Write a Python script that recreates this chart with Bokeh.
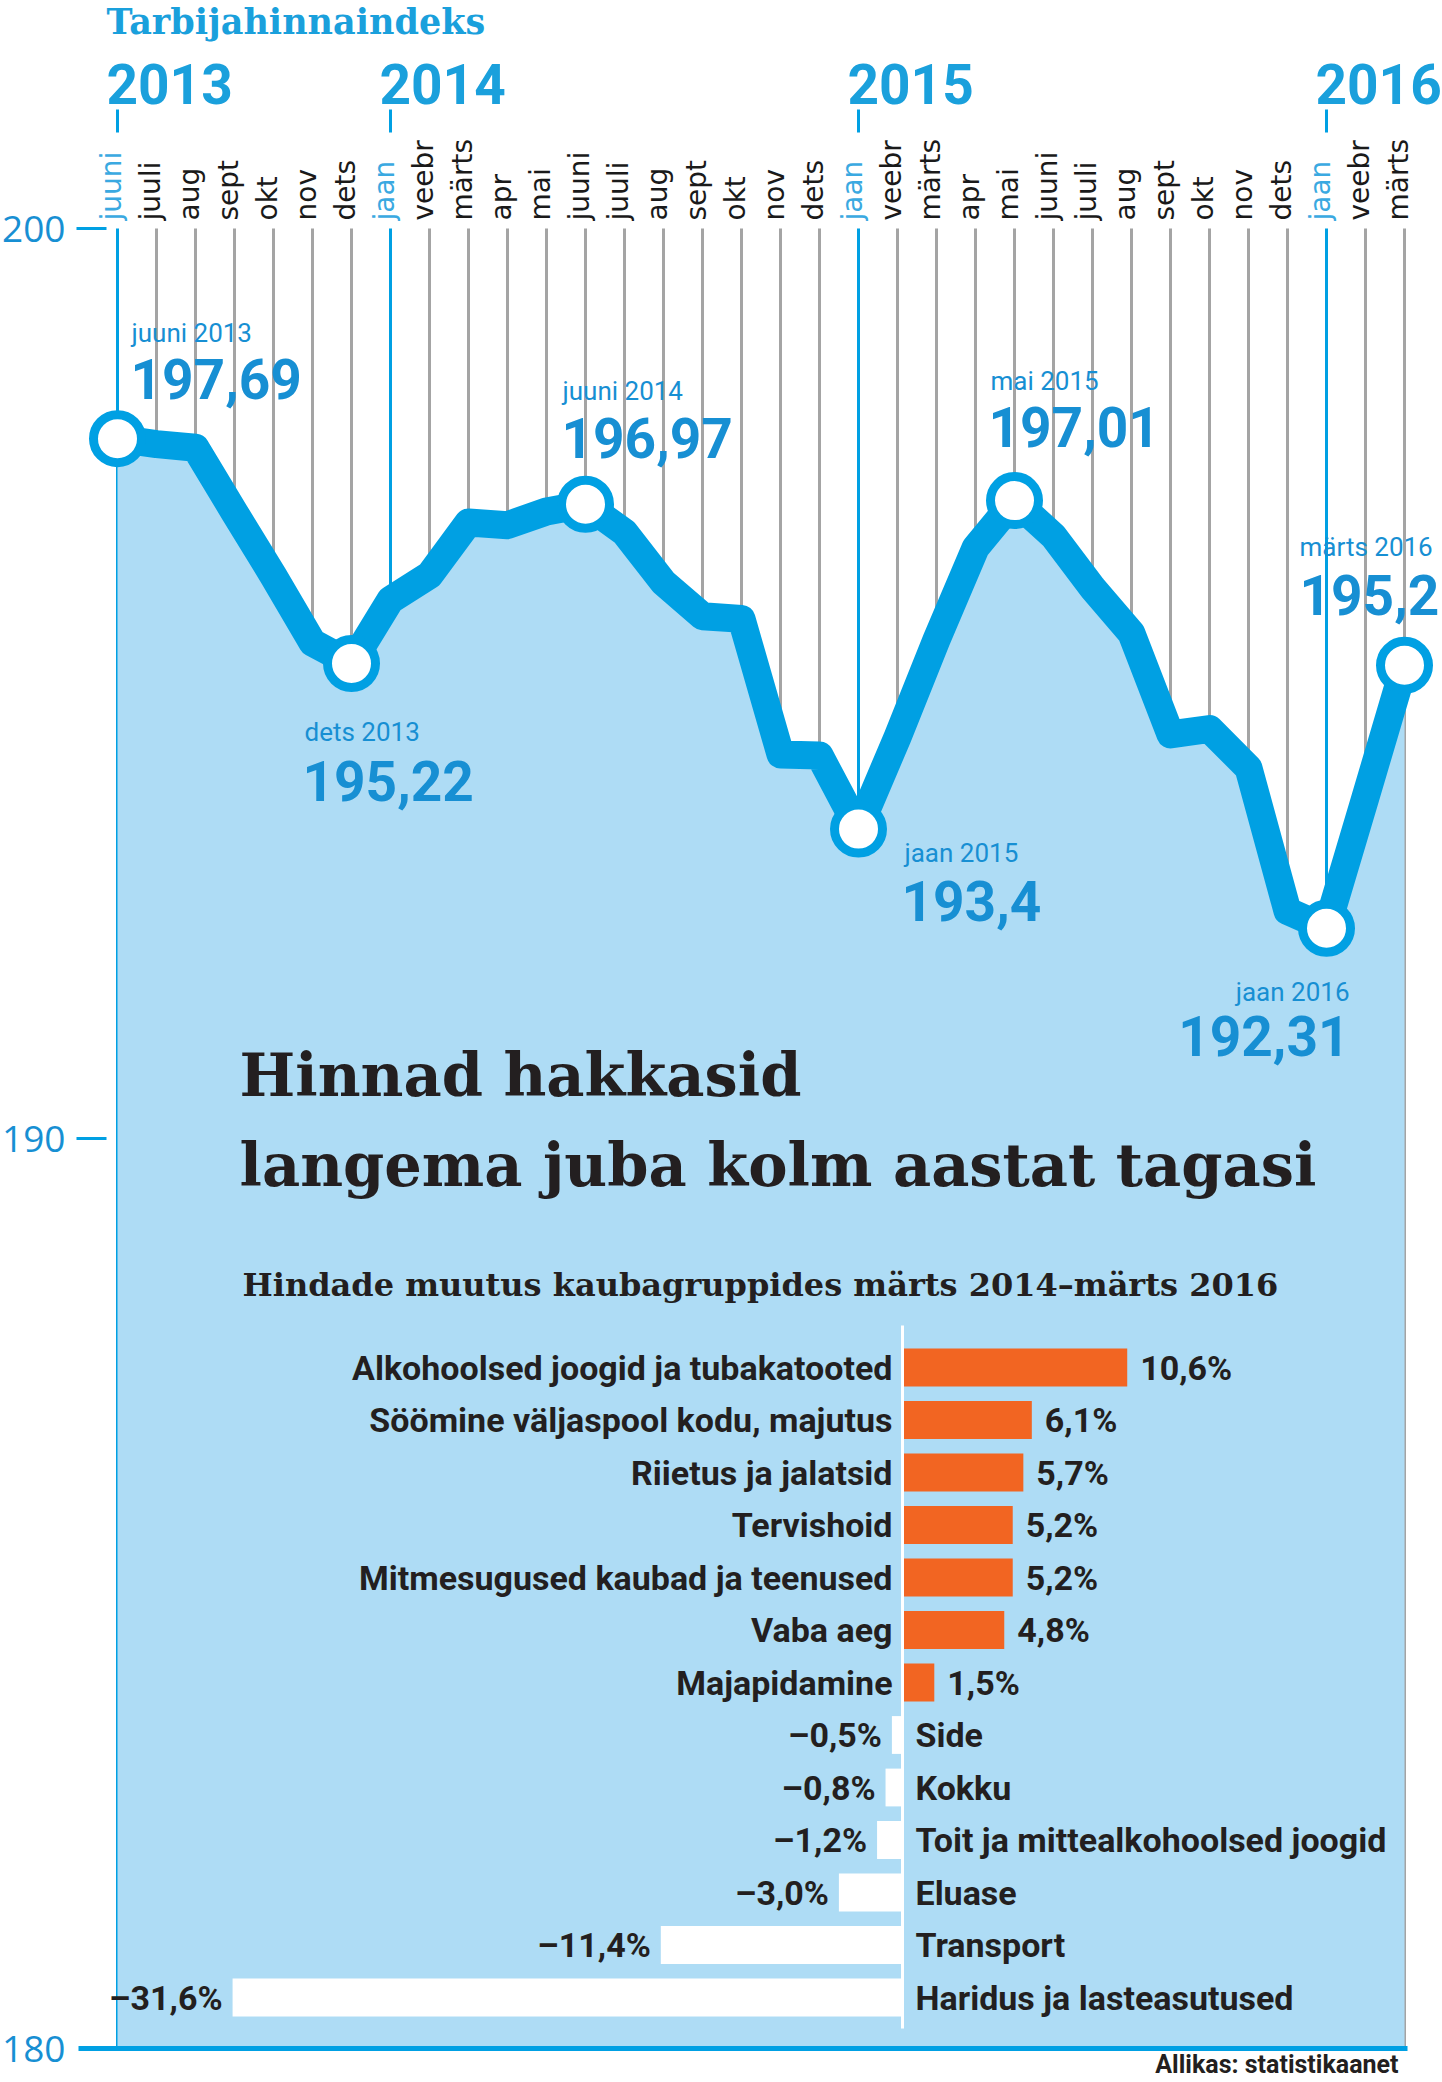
import math
from bokeh.plotting import figure
from bokeh.models import Range1d, ColumnDataSource
from bokeh.core.properties import value
from bokeh.embed import file_html
from bokeh.resources import INLINE

# ---------------- data ----------------
months = ["juuni", "juuli", "aug", "sept", "okt", "nov", "dets",
          "jaan", "veebr", "märts", "apr", "mai", "juuni", "juuli", "aug", "sept", "okt", "nov", "dets",
          "jaan", "veebr", "märts", "apr", "mai", "juuni", "juuli", "aug", "sept", "okt", "nov", "dets",
          "jaan", "veebr", "märts"]
cpi = [197.69, 197.63, 197.59, 196.88, 196.18, 195.45, 195.22,
       195.92, 196.19, 196.77, 196.74, 196.89, 196.97, 196.66, 196.11, 195.74, 195.71, 194.22, 194.21,
       193.40, 194.41, 195.48, 196.49, 197.01, 196.62, 196.05, 195.55, 194.44, 194.50, 194.07, 192.50,
       192.31, 193.75, 195.20]
years = ["2013", "2014", "2015", "2016"]
year_start = [0, 7, 19, 31]
highlight_idx = [0, 6, 12, 19, 23, 31, 33]
highlight_names = ["juuni 2013", "dets 2013", "juuni 2014", "jaan 2015", "mai 2015", "jaan 2016", "märts 2016"]
y_ticks = [180, 190, 200]

categories = ["Alkohoolsed joogid ja tubakatooted", "Söömine väljaspool kodu, majutus",
              "Riietus ja jalatsid", "Tervishoid", "Mitmesugused kaubad ja teenused", "Vaba aeg",
              "Majapidamine", "Side", "Kokku", "Toit ja mittealkohoolsed joogid", "Eluase",
              "Transport", "Haridus ja lasteasutused"]
changes = [10.6, 6.1, 5.7, 5.2, 5.2, 4.8, 1.5, -0.5, -0.8, -1.2, -3.0, -11.4, -31.6]

# ---------------- styling ----------------
BLUE = "#00a0e3"
BLUE_TXT = "#178fd3"
BLUE_LIGHT = "#3aa9e1"
AREA = "#aedcf5"
GRAY = "#a4a4a4"
DARK = "#231f20"
ORANGE = "#f26522"

W, H = 1442, 2082
PX_X = 39.0   # px per month
PX_Y = 91.0   # px per index point
MID = 0.35    # baseline -> middle offset (em)

def X(px):
    return (px - 117) / PX_X
def Y(py):
    return 200 - (py - 228) / PX_Y
def YB(baseline_px, fs):
    # anchor for text_baseline="middle" so that the alphabetic baseline lands at baseline_px
    return Y(baseline_px - MID * fs)

p = figure(width=W, height=H, output_backend="svg", toolbar_location=None,
           x_range=Range1d(X(0), X(W)), y_range=Range1d(Y(H), Y(0)),
           x_axis_location=None, y_axis_location=None, min_border=0)
p.grid.visible = False
p.outline_line_color = None
p.background_fill_color = "white"

PCT_PX = 21.2
ZERO_X = 902
ROW0 = 1367
ROW_PX = 52.5
p.extra_x_ranges = {"pct": Range1d((0 - ZERO_X) / PCT_PX, (W - ZERO_X) / PCT_PX)}
p.extra_y_ranges = {"row": Range1d((H - ROW0) / ROW_PX, (0 - ROW0) / ROW_PX)}

n = len(months)
idx = list(range(n))
is_blue = [(i == 0 or months[i] == "jaan") for i in idx]

# vertical month grid lines
p.segment(x0=idx, y0=[200] * n, x1=idx, y1=[180] * n,
          line_color=[BLUE if b else GRAY for b in is_blue], line_width=3)

# area under the line
p.varea(x=idx, y1=[180] * n, y2=cpi, fill_color=AREA)

# main line + highlighted points
p.line(idx, cpi, line_color=BLUE, line_width=28, line_join="round", line_cap="round")
p.scatter([idx[i] for i in highlight_idx], [cpi[i] for i in highlight_idx], marker="circle",
          size=48, fill_color="white", line_color=BLUE, line_width=9)

# y ticks
short = [t for t in y_ticks if t != 180]
p.segment(x0=[X(76)] * len(short), y0=short, x1=[X(106)] * len(short), y1=short,
          line_color=BLUE, line_width=3)
p.segment(x0=[X(78)], y0=[180], x1=[X(1407)], y1=[180], line_color=BLUE, line_width=5)
p.text(x=[X(65)] * len(y_ticks), y=y_ticks, text=[str(t) for t in y_ticks],
       text_align="right", text_baseline="middle", text_color=BLUE_TXT,
       text_font=value("Open Sans"), text_font_size="37px")

# month labels (rotated)
p.text(x=[i - 6 / PX_X for i in idx], y=[Y(220)] * n, text=months, angle=math.pi / 2,
       text_align="left", text_baseline="middle",
       text_color=[BLUE_LIGHT if b else "#1a1a1a" for b in is_blue],
       text_font=value("DejaVu Sans"), text_font_size="28px")

# year labels and markers
p.segment(x0=year_start, y0=[Y(109)] * 4, x1=year_start, y1=[Y(132)] * 4,
          line_color=BLUE, line_width=3)
p.text(x=[i - 11 / PX_X for i in year_start], y=[YB(103, 55)] * 4, text=years,
       text_align="left", text_baseline="middle", text_color="#1aa0dc",
       text_font=value("Roboto"), text_font_style="bold", text_font_size="55px")

p.text(x=[X(106)], y=[YB(33, 35)], text=["Tarbijahinnaindeks"], text_align="left",
       text_baseline="middle", text_color="#1aa0dc",
       text_font=value("DejaVu Serif"), text_font_style="bold", text_font_size="35px")

# highlight annotations: (dx, dy) of small-label baseline, (dx, dy) of value baseline, align
ann = [((14, -97), (13, -40), "left"),
       ((-47, 78), (-49, 137), "left"),
       ((-23, -104), (-24, -47), "left"),
       ((46, 33), (43, 91), "left"),
       ((-24, -110), (-26, -54), "left"),
       ((23, 73), (23, 127), "right"),
       ((-105, -109), (-105, -51), "left")]
FS_SMALL, FS_BIG = 26, 55
def fmt_idx(v):
    return ("%.2f" % v).rstrip("0").rstrip(".").replace(".", ",")
for k, i in enumerate(highlight_idx):
    (sdx, sdy), (vdx, vdy), al = ann[k]
    v = cpi[i]
    p.text(x=[i + sdx / PX_X], y=[v - (sdy - MID * FS_SMALL) / PX_Y], text=[highlight_names[k]],
           text_align=al, text_baseline="middle", text_color=BLUE_TXT,
           text_font=value("Roboto"), text_font_size="%dpx" % FS_SMALL)
    p.text(x=[i + vdx / PX_X], y=[v - (vdy - MID * FS_BIG) / PX_Y], text=[fmt_idx(v)],
           text_align=al, text_baseline="middle", text_color=BLUE_TXT,
           text_font=value("Roboto"), text_font_style="bold", text_font_size="%dpx" % FS_BIG)

# titles
p.text(x=[X(239), X(239)], y=[YB(1096, 59), YB(1186, 59)],
       text=["Hinnad hakkasid", "langema juba kolm aastat tagasi"],
       text_align="left", text_baseline="middle", text_color=DARK,
       text_font=value("DejaVu Serif"), text_font_style="bold", text_font_size="59px")
p.text(x=[X(242)], y=[YB(1296, 32)], text=["Hindade muutus kaubagruppides märts 2014–märts 2016"],
       text_align="left", text_baseline="middle", text_color=DARK,
       text_font=value("DejaVu Serif"), text_font_style="bold", text_font_size="32px")

# ---------------- bar chart ----------------
rows = list(range(len(categories)))
def fmt_pct(v):
    return ("%.1f" % v).replace(".", ",").replace("-", "–") + "%"
src = ColumnDataSource(dict(
    row=rows, val=changes,
    color=[ORANGE if v > 0 else "white" for v in changes]))
p.hbar(y="row", left=0, right="val", height=0.72, fill_color="color", line_color=None,
       source=src, x_range_name="pct", y_range_name="row")
p.segment(x0=[0], y0=[(1325 - ROW0) / ROW_PX], x1=[0], y1=[(2028 - ROW0) / ROW_PX],
          line_color="white", line_width=3, x_range_name="pct", y_range_name="row")

pos = [r for r in rows if changes[r] > 0]
neg = [r for r in rows if changes[r] <= 0]
def sub(rs):
    return ColumnDataSource(dict(row=rs, val=[changes[r] for r in rs], zero=[0] * len(rs),
                                 cat=[categories[r] for r in rs],
                                 lab=[fmt_pct(changes[r]) for r in rs]))
sp, sn = sub(pos), sub(neg)
common = dict(text_baseline="middle", text_color=DARK, text_font=value("Roboto"),
              text_font_style="bold", text_font_size="34px",
              x_range_name="pct", y_range_name="row")
p.text(x="zero", y="row", text="cat", text_align="right", x_offset=-10, source=sp, **common)
p.text(x="val", y="row", text="lab", text_align="left", x_offset=13, source=sp, **common)
p.text(x="zero", y="row", text="cat", text_align="left", x_offset=13, source=sn, **common)
p.text(x="val", y="row", text="lab", text_align="right", x_offset=-10, source=sn, **common)

p.text(x=[X(1398)], y=[YB(2073, 25)], text=["Allikas: statistikaanet"], text_align="right",
       text_baseline="middle", text_color=DARK, text_font=value("Roboto"),
       text_font_style="bold", text_font_size="25px")

open("out.html", "w", encoding="utf-8").write(file_html(p, INLINE, "Tarbijahinnaindeks"))
